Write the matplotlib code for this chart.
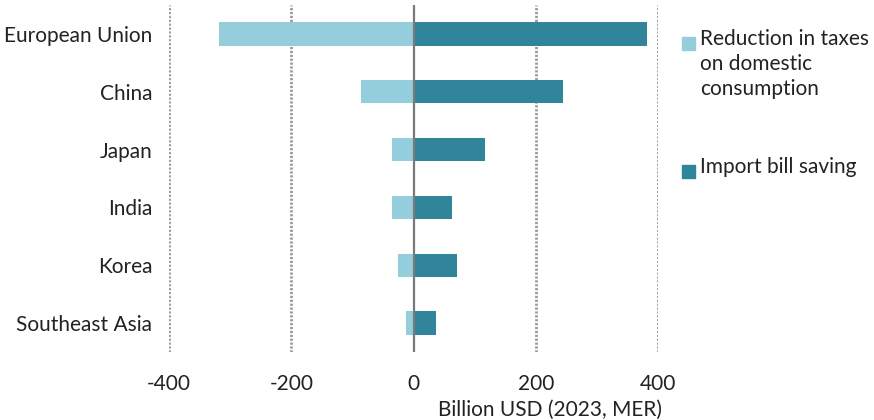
import matplotlib.pyplot as plt
from matplotlib.patches import Rectangle

plt.rcParams["font.family"] = ["Lato", "DejaVu Sans"]

regions = ["European Union", "China", "Japan", "India", "Korea", "Southeast Asia"]
tax_reduction = [-318, -86, -36, -35, -25, -12]
import_saving = [382, 244, 117, 63, 71, 37]
x_ticks = [-400, -200, 0, 200, 400]

LIGHT = "#94cddc"
DARK = "#31859b"
FS = 15


def main() -> None:
    fig = plt.figure(figsize=(8.74, 4.2), dpi=100)
    ax = fig.add_axes([0.1934, 0.162, 0.5595, 0.826])

    ypos = list(range(len(regions)))
    ax.barh(ypos, tax_reduction, height=0.4, color=LIGHT, zorder=2)
    ax.barh(ypos, import_saving, height=0.4, color=DARK, zorder=2)

    ax.set_xlim(-400, 400)
    ax.set_ylim(len(regions) - 0.5, -0.5)
    ax.set_yticks(ypos)
    ax.set_yticklabels(regions, fontsize=FS)
    ax.set_xticks(x_ticks)
    ax.set_xticklabels([str(t) for t in x_ticks], fontsize=FS)
    ax.tick_params(axis="both", length=0, colors="#222222")
    ax.tick_params(axis="y", pad=12)
    ax.tick_params(axis="x", pad=16)

    for t in x_ticks:
        if t == 0:
            ax.axvline(0, color="#7a7a7a", lw=1.6, zorder=3)
        else:
            ax.axvline(t, color="#9a9a9a", lw=2.0, ls=(0, (0.8, 0.6)), zorder=1)

    for s in ax.spines.values():
        s.set_visible(False)

    fig.text(0.757, 0.0, "Billion USD (2023, MER)", ha="right", va="bottom",
             fontsize=FS, color="#222222")

    # legend, drawn by hand so the square sits on the first line
    entries = [
        (LIGHT, "Reduction in taxes\non domestic\nconsumption", 43),
        (DARK, "Import bill saving", 171),
    ]
    for color, label, ypix in entries:
        fig.patches.append(Rectangle((682 / 874, 1 - (ypix + 7) / 420), 13 / 874, 13 / 420,
                                     transform=fig.transFigure, color=color))
        fig.text(700 / 874, 1 - (ypix - 14) / 420, label, ha="left", va="top",
                 fontsize=FS, color="#222222", linespacing=1.3)

    fig.savefig("out.png", dpi=100)
    plt.close(fig)


if __name__ == "__main__":
    main()
